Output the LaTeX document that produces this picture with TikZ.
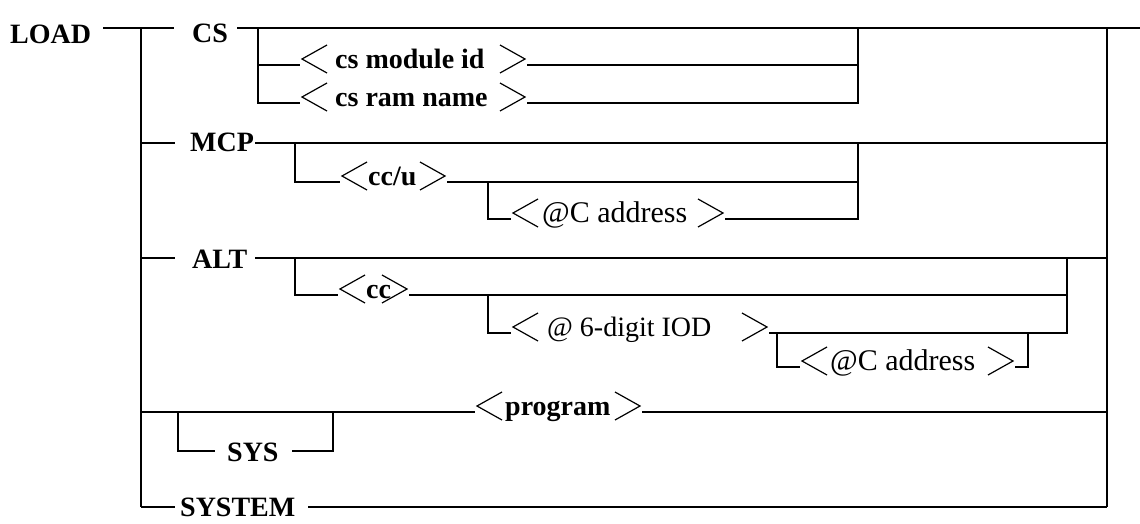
\documentclass[tikz,border=0pt]{standalone}
\usepackage{fontspec}
\setmainfont{Liberation Serif}
\usetikzlibrary{calc}
\tikzset{
  kw/.style={font=\fontsize{28}{30}\selectfont\bfseries, inner sep=0pt, anchor=base west},
  bt/.style={font=\fontsize{28}{30}\selectfont\bfseries, inner sep=0pt, anchor=base west},
  rt/.style={font=\fontsize{28}{30}\selectfont, inner sep=0pt, anchor=base west},
  rtw/.style={font=\fontsize{30}{32}\selectfont, inner sep=0pt, anchor=base west},
  conn/.style={line width=1.8pt},
  brk/.style={line width=1.2pt, line join=miter},
}
% #1 name, #2 line y, #3 left tip x, #4 text x, #5 right tip x, #6 style, #7 text
\newcommand\bitem[7]{%
  \node[#6] (#1) at (#4,#2+3) {#7};
  \draw[brk] (#3+25,#2-20) -- (#3,#2-6) -- (#3+25,#2+8);
  \draw[brk] (#5-25,#2-20) -- (#5,#2-6) -- (#5-25,#2+8);
  \coordinate (#1-in) at (#3-2,#2);
  \coordinate (#1-out) at (#5+2,#2);
}
\begin{document}
\begin{tikzpicture}[x=1pt,y=-1pt]
\useasboundingbox (0,0) rectangle (1140,523);

% keyword nodes
\node[kw] (load) at (10,43) {LOAD};
\node[kw] (cs) at (192,42) {CS};
\node[kw] (mcp) at (190,151) {MCP};
\node[kw] (alt) at (192,268) {ALT};
\node[kw] (sys) at (227,461) {SYS};
\node[kw] (system) at (180,516) {SYSTEM};

% bracketed items
\bitem{csmod}{65}{302}{335}{525}{bt}{cs module id}
\bitem{csram}{103}{302}{335}{525}{bt}{cs ram name}
\bitem{ccu}{182}{342}{368}{445}{bt}{cc/u}
\bitem{mcpaddr}{219}{513}{542}{723}{rtw}{@C address}
\bitem{cc}{295}{340}{366}{407}{bt}{cc}
\bitem{iod}{333}{513}{547}{767}{rt}{@ 6-digit IOD}
\bitem{altaddr}{367}{802}{830}{1013}{rtw}{@C address}
\bitem{prog}{412}{477}{505}{640}{bt}{program}

% coordinates
\coordinate (T0) at (141,28);
\coordinate (Tb) at (141,507);
\coordinate (R0) at (1107,28);
\coordinate (Rb) at (1107,507);
\coordinate (load-out) at (103,28);
\coordinate (cs-in) at (174,28);
\coordinate (cs-out) at (237,28);
\coordinate (end) at (1140,28);
\coordinate (jcs) at (258,28);
\coordinate (rcs) at (858,28);

\coordinate (Tmcp) at (141,143);
\coordinate (mcp-in) at (175,143);
\coordinate (mcp-out) at (255,143);
\coordinate (Rmcp) at (1107,143);
\coordinate (jmcp) at (295,143);
\coordinate (rmcp) at (858,143);
\coordinate (jccu) at (488,182);

\coordinate (Talt) at (141,258);
\coordinate (alt-in) at (175,258);
\coordinate (alt-out) at (255,258);
\coordinate (Ralt) at (1107,258);
\coordinate (jalt) at (295,258);
\coordinate (ralt) at (1067,258);
\coordinate (jcc) at (488,295);
\coordinate (jiod) at (777,333);
\coordinate (riod) at (1028,333);

\coordinate (Tprog) at (141,412);
\coordinate (Rprog) at (1107,412);
\coordinate (jsys) at (178,412);
\coordinate (rsys) at (333,412);
\coordinate (sys-in) at (215,451);
\coordinate (sys-out) at (292,451);
\coordinate (system-in) at (175,507);
\coordinate (system-out) at (308,507);

% connectors
\draw[conn] (load-out) -- (cs-in);
\draw[conn] (cs-out) -- (end);
\draw[conn] (T0) -- (Tb);
\draw[conn] (R0) -- (Rb);

\draw[conn] (jcs) |- (csmod-in);
\draw[conn] (jcs) |- (csram-in);
\draw[conn] (csmod-out) -| (rcs);
\draw[conn] (csram-out) -| (rcs);

\draw[conn] (Tmcp) -- (mcp-in);
\draw[conn] (mcp-out) -- (Rmcp);
\draw[conn] (jmcp) |- (ccu-in);
\draw[conn] (ccu-out) -| (rmcp);
\draw[conn] (jccu) |- (mcpaddr-in);
\draw[conn] (mcpaddr-out) -| (rmcp);

\draw[conn] (Talt) -- (alt-in);
\draw[conn] (alt-out) -- (Ralt);
\draw[conn] (jalt) |- (cc-in);
\draw[conn] (cc-out) -| (ralt);
\draw[conn] (jcc) |- (iod-in);
\draw[conn] (iod-out) -| (ralt);
\draw[conn] (jiod) |- (altaddr-in);
\draw[conn] (altaddr-out) -| (riod);

\draw[conn] (Tprog) -- (prog-in);
\draw[conn] (prog-out) -- (Rprog);
\draw[conn] (jsys) |- (sys-in);
\draw[conn] (sys-out) -| (rsys);

\draw[conn] (Tb) -- (system-in);
\draw[conn] (system-out) -- (Rb);
\end{tikzpicture}
\end{document}
